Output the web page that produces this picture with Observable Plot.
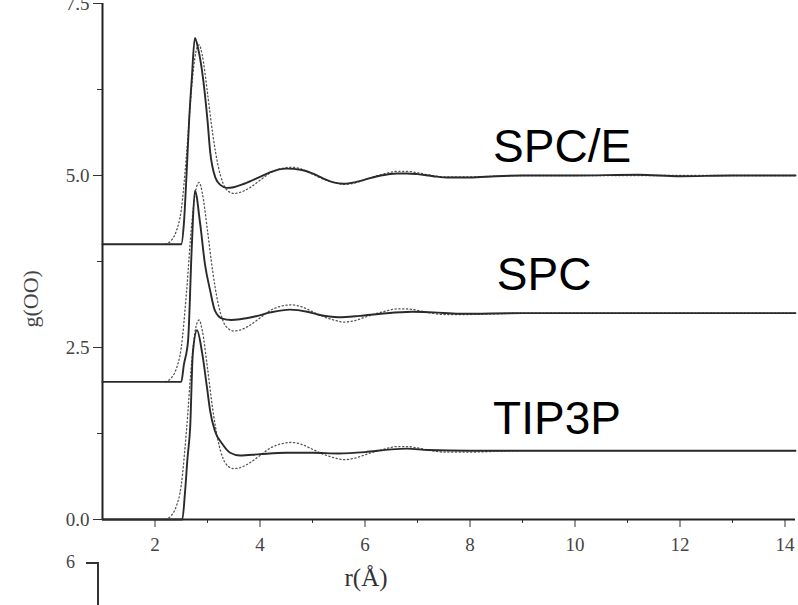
<!DOCTYPE html>
<html>
<head>
<meta charset="utf-8">
<script src="https://cdn.jsdelivr.net/npm/d3@7"></script>
<script src="https://cdn.jsdelivr.net/npm/@observablehq/plot@0.6"></script>
<style>
  html, body { margin: 0; padding: 0; background: #fff; }
  #wrap { position: relative; width: 798px; height: 605px; overflow: hidden; }
  #frag6 { position: absolute; left: 66px; top: 552px; font: 18px "Liberation Serif", serif; color: #444; }
  #fragLine { position: absolute; left: 86px; top: 562px; width: 13px; height: 45px; border-top: 2px solid #333; border-right: 2px solid #333; box-sizing: border-box; }
</style>
</head>
<body>
<div id="wrap"><div id="chart"></div><div id="frag6">6</div><div id="fragLine"></div></div>
<script>
// Tick values
const xMajorTicks = [2, 4, 6, 8, 10, 12, 14];
const xMinorTicks = [3, 5, 7, 9, 11, 13];
const yMajorTicks = [0, 2.5, 5.0, 7.5];
const yMinorTicks = [1.25, 3.75, 6.25];

// Model names and vertical offsets
const models = ["SPC/E", "SPC", "TIP3P"];
const offsets = [4, 2, 0];
const labelR = [8.44, 8.51, 8.44];
const labelG = [1.19, 1.33, 1.25];

// Simulated g(OO) curves
const spceR = [1, 2.5, 2.55, 2.6, 2.65, 2.7, 2.76, 2.82, 2.9, 3.0, 3.05, 3.15, 3.25, 3.37, 3.5, 3.7, 4.0, 4.2, 4.5, 4.8, 5.0, 5.2, 5.4, 5.6, 5.8, 6.0, 6.3, 6.6, 6.8, 7.0, 7.3, 7.6, 8.0, 8.5, 9.0, 10, 11.2, 12, 13, 14.2];
const spceG = [0, 0, 0.3, 1.0, 1.8, 2.4, 3.0, 2.85, 2.5, 1.8, 1.35, 0.97, 0.86, 0.82, 0.83, 0.88, 0.98, 1.05, 1.10, 1.08, 1.03, 0.96, 0.9, 0.88, 0.9, 0.94, 1.0, 1.03, 1.03, 1.02, 0.99, 0.97, 0.97, 0.99, 1.0, 1.0, 1.01, 0.99, 1.0, 1.0];

const spcR = [1, 2.5, 2.55, 2.63, 2.7, 2.76, 2.86, 2.95, 3.05, 3.14, 3.28, 3.45, 3.62, 3.9, 4.2, 4.57, 4.9, 5.1, 5.5, 5.9, 6.3, 6.9, 7.3, 7.8, 9, 14.2];
const spcG = [0, 0, 0.25, 0.6, 1.95, 2.78, 2.3, 1.72, 1.33, 1.04, 0.92, 0.9, 0.91, 0.95, 1.01, 1.05, 1.02, 0.98, 0.94, 0.96, 0.99, 1.02, 1.01, 0.99, 1.0, 1.0];

const tip3pR = [1, 2.52, 2.57, 2.62, 2.67, 2.72, 2.8, 2.9, 2.99, 3.05, 3.14, 3.28, 3.43, 3.62, 4.0, 4.5, 5.0, 5.5, 6.0, 6.5, 6.8, 7.2, 8, 14.2];
const tip3pG = [0, 0, 0.38, 0.9, 1.34, 2.41, 2.75, 2.41, 1.92, 1.58, 1.29, 1.1, 0.97, 0.93, 0.95, 0.97, 0.97, 0.96, 0.98, 1.02, 1.03, 1.01, 1.0, 1.0];

// Experimental g(OO) (dotted, repeated under each model)
const expR = [2.2, 2.3, 2.4, 2.5, 2.6, 2.7, 2.78, 2.84, 2.9, 3.0, 3.1, 3.2, 3.3, 3.4, 3.5, 3.6, 3.8, 4.0, 4.2, 4.4, 4.6, 4.8, 5.0, 5.2, 5.4, 5.6, 5.8, 6.0, 6.2, 6.4, 6.6, 6.8, 7.0, 7.2, 7.5, 8.0, 8.5, 9.0, 10, 11, 12, 13, 14.2];
const expG = [0, 0.05, 0.18, 0.5, 1.3, 2.3, 2.8, 2.9, 2.75, 2.2, 1.6, 1.15, 0.88, 0.77, 0.74, 0.75, 0.82, 0.93, 1.04, 1.1, 1.12, 1.09, 1.02, 0.95, 0.9, 0.87, 0.89, 0.94, 0.99, 1.03, 1.06, 1.06, 1.04, 1.01, 0.98, 0.98, 0.99, 1.0, 1.0, 1.0, 1.0, 1.0, 1.0];

const simR = [spceR, spcR, tip3pR];
const simG = [spceG, spcG, tip3pG];

const sim = models.flatMap((m, i) => simR[i].map((r, j) => ({model: m, r, y: simG[i][j] + offsets[i]})));
const exp = models.flatMap((m, i) => expR.map((r, j) => ({model: m, r, y: expG[j] + offsets[i]})));
const labels = models.map((m, i) => ({model: m, r: labelR[i], y: labelG[i] + offsets[i]}));

const tickFont = "Liberation Serif, Times New Roman, serif";

const chart = Plot.plot({
  width: 798,
  height: 605,
  marginLeft: 102,
  marginRight: 3,
  marginTop: 3,
  marginBottom: 86,
  x: {domain: [1, 14.2]},
  y: {domain: [0, 7.5]},
  style: {background: "#fff"},
  marks: [
    Plot.axisX({ticks: xMinorTicks, tickSize: 4, tickFormat: () => "", stroke: "#333", label: null}),
    Plot.axisX({ticks: xMajorTicks, tickSize: 8, tickPadding: 10, fontSize: 19, fontFamily: tickFont, fill: "#444", stroke: "#333", label: null}),
    Plot.axisY({ticks: yMinorTicks, tickSize: 5, tickFormat: () => "", stroke: "#333", label: null}),
    Plot.axisY({ticks: yMajorTicks, tickSize: 9, tickPadding: 4, tickFormat: d3.format(".1f"), fontSize: 19, fontFamily: tickFont, fill: "#444", stroke: "#333", label: null}),
    Plot.ruleX([1], {stroke: "#222", strokeWidth: 2}),
    Plot.ruleY([0], {stroke: "#222", strokeWidth: 2}),
    Plot.line(exp, {x: "r", y: "y", z: "model", stroke: "#555", strokeWidth: 1.3, strokeDasharray: "1.2,2.6", curve: "monotone-x"}),
    Plot.line(sim, {x: "r", y: "y", z: "model", stroke: "#2a2a2a", strokeWidth: 1.9, curve: "monotone-x"}),
    Plot.text(labels, {x: "r", y: "y", text: "model", textAnchor: "start", lineAnchor: "bottom", fontSize: 46, fontFamily: "Liberation Sans, Arial, sans-serif", fill: "#000"}),
    Plot.text(["r(Å)"], {frameAnchor: "bottom", dx: -83, dy: 66, fontSize: 25, fontFamily: tickFont, fill: "#333"}),
    Plot.text(["g(OO)"], {frameAnchor: "left", dx: -72, dy: 66, rotate: -90, fontSize: 22, fontFamily: tickFont, fill: "#444"})
  ]
});
document.getElementById("chart").appendChild(chart);
</script>
</body>
</html>
